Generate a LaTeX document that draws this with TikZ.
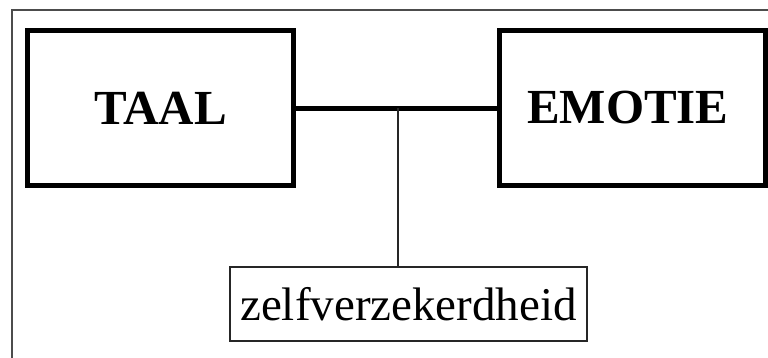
\documentclass[tikz,border=0pt]{standalone}
\usepackage{fontspec}
\setmainfont{Liberation Serif}
\begin{document}
\begin{tikzpicture}[x=1pt,y=-1pt,
  bigbox/.style={draw=black,line width=5pt,minimum width=265.5pt,minimum height=155pt,inner sep=0pt,font=\fontsize{49}{52}\selectfont\bfseries},
  smallbox/.style={draw=black!85,line width=1.4pt,minimum width=357pt,minimum height=74pt,inner sep=0pt,font=\fontsize{47}{50}\selectfont},
  frame/.style={draw=black!70,line width=1.4pt}]
\useasboundingbox (0,0) rectangle (768,358);
\draw[frame] (768,10) -- (12,10) -- (12,358);
\node[bigbox] (taal) at (160.5,108.3) {TAAL};
\node[bigbox] (emotie) at (632.3,108.3) {\raisebox{3pt}{EMOTIE}\hspace*{9pt}};
\node[smallbox] (zelf) at (408.5,304) {\raisebox{-3pt}{zelfverzekerdheid}};
\coordinate (j) at (398,107.8);
\draw[line width=4.5pt] (taal.east) -- (emotie.west);
\draw[line width=1.5pt,black!85] (j) -- (j |- zelf.north);
\end{tikzpicture}
\end{document}
